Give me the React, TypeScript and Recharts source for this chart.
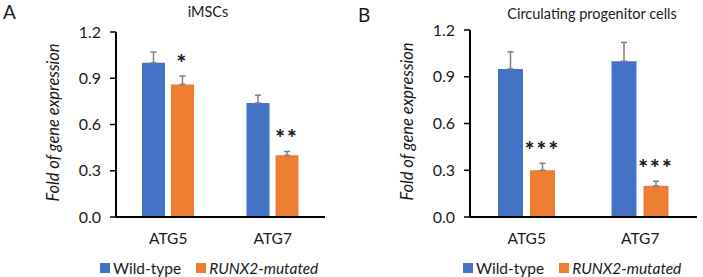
import React from 'react';
import { BarChart, Bar, XAxis, YAxis, ErrorBar, LabelList, Legend } from 'recharts';

// Genes on the category axis
const genes = ['ATG5', 'ATG7'];

// iMSCs: mean fold change and upper SEM
const imscWild = [1.0, 0.74];
const imscWildErr = [0.07, 0.05];
const imscMut = [0.86, 0.4];
const imscMutErr = [0.055, 0.025];
const imscSig = ['*', '**'];

// Circulating progenitor cells
const cpcWild = [0.95, 1.0];
const cpcWildErr = [0.11, 0.12];
const cpcMut = [0.3, 0.2];
const cpcMutErr = [0.045, 0.03];
const cpcSig = ['***', '***'];

const yTicks = [0, 0.3, 0.6, 0.9, 1.2];
const seriesNames = ['Wild-type', 'RUNX2-mutated'];

const BLUE = '#4472C4';
const ORANGE = '#ED7D31';
const FONT = 'Lato, "Open Sans", sans-serif';

type Row = {
  gene: string;
  wild: number;
  wildErr: [number, number];
  mut: number;
  mutErr: [number, number];
  sig: string;
};

const buildRows = (
  wild: number[],
  wildErr: number[],
  mut: number[],
  mutErr: number[],
  sig: string[]
): Row[] =>
  genes.map((gene, i) => ({
    gene,
    wild: wild[i],
    wildErr: [0, wildErr[i]],
    mut: mut[i],
    mutErr: [0, mutErr[i]],
    sig: sig[i],
  }));

const imscRows = buildRows(imscWild, imscWildErr, imscMut, imscMutErr, imscSig);
const cpcRows = buildRows(cpcWild, cpcWildErr, cpcMut, cpcMutErr, cpcSig);

type PanelProps = {
  rows: Row[];
  width: number;
  yAxisWidth: number;
  marginTop: number;
  marginRight: number;
  barSize: number;
  barGap: number;
  legendLeft: number;
};

const Panel = ({ rows, width, yAxisWidth, marginTop, marginRight, barSize, barGap, legendLeft }: PanelProps) => {
  // asterisks sit just above the error-bar cap of the mutated series
  const renderSig = (props: any) => {
    const { x, y, width: w, height: h, value, index } = props;
    const row = rows[index];
    if (!row) return null;
    const pxPerUnit = Number(h) / row.mut;
    const capY = Number(y) - row.mutErr[1] * pxPerUnit;
    return (
      <text
        x={Number(x) + Number(w) / 2}
        y={capY - 5}
        textAnchor="middle"
        fontFamily={FONT}
        fontWeight={900}
        fontSize={23}
        letterSpacing={2}
        fill="#1a1a1a"
      >
        {value}
      </text>
    );
  };

  const renderYLabel = (props: any) => {
    const vb = props.viewBox || {};
    const cx = (vb.x ?? 0) + yAxisWidth - 61;
    const cy = (vb.y ?? 0) + (vb.height ?? 0) / 2 - 2;
    return (
      <text
        x={cx}
        y={cy}
        transform={`rotate(-90, ${cx}, ${cy})`}
        textAnchor="middle"
        dominantBaseline="middle"
        fontFamily={FONT}
        fontStyle="italic"
        fontSize={16.5}
        fill="#1a1a1a"
      >
        Fold of gene expression
      </text>
    );
  };

  const renderLegend = () => (
    <div
      style={{
        display: 'flex',
        alignItems: 'center',
        paddingLeft: legendLeft,
        fontFamily: FONT,
        fontSize: 15.5,
        color: '#1a1a1a',
        height: 20,
      }}
    >
      <span style={{ width: 10, height: 10, background: BLUE, marginRight: 3 }} />
      <span>{seriesNames[0]}</span>
      <span style={{ width: 10, height: 10, background: ORANGE, marginLeft: 15, marginRight: 3 }} />
      <span style={{ fontStyle: 'italic' }}>{seriesNames[1]}</span>
    </div>
  );

  return (
    <BarChart
      width={width}
      height={277}
      data={rows}
      margin={{ top: marginTop, right: marginRight, left: 0, bottom: 10 }}
      barSize={barSize}
      barGap={barGap}
    >
      <XAxis
        dataKey="gene"
        axisLine={{ stroke: '#000', strokeWidth: 2 }}
        tickLine={false}
        tickSize={0}
        tickMargin={16}
        height={30}
        tick={{ fontFamily: FONT, fontSize: 15.5, fill: '#1a1a1a' }}
      />
      <YAxis
        width={yAxisWidth}
        domain={[0, 1.2]}
        ticks={yTicks}
        interval={0}
        tickFormatter={(v: number) => v.toFixed(1)}
        axisLine={{ stroke: '#000', strokeWidth: 2 }}
        tickLine={{ stroke: '#000', strokeWidth: 1.5 }}
        tickSize={6}
        tickMargin={9}
        tick={{ fontFamily: FONT, fontSize: 16, fill: '#1a1a1a' }}
        label={renderYLabel}
      />
      <Legend
        verticalAlign="bottom"
        content={renderLegend}
        wrapperStyle={{ left: 0, top: 258, bottom: 'auto', width }}
      />
      <Bar dataKey="wild" name={seriesNames[0]} fill={BLUE} isAnimationActive={false}>
        <ErrorBar dataKey="wildErr" width={3} stroke="#7F7F7F" strokeWidth={1.5} direction="y" />
      </Bar>
      <Bar dataKey="mut" name={seriesNames[1]} fill={ORANGE} isAnimationActive={false}>
        <ErrorBar dataKey="mutErr" width={3} stroke="#7F7F7F" strokeWidth={1.5} direction="y" />
        <LabelList dataKey="sig" content={renderSig} />
      </Bar>
    </BarChart>
  );
};

const titleStyle: React.CSSProperties = {
  position: 'absolute',
  fontFamily: FONT,
  fontSize: 14.5,
  color: '#1a1a1a',
  transform: 'translateX(-50%)',
  whiteSpace: 'nowrap',
};

const letterStyle: React.CSSProperties = {
  position: 'absolute',
  fontFamily: FONT,
  fontSize: 19,
  color: '#1a1a1a',
};

export default function App() {
  return (
    <div style={{ position: 'absolute', left: 0, top: 0, width: 703, height: 277, background: '#fff', overflow: 'hidden' }}>
      <div style={{ position: 'absolute', left: 0, top: 0 }}>
        <Panel
          rows={imscRows}
          width={350}
          yAxisWidth={116}
          marginTop={32}
          marginRight={25}
          barSize={23}
          barGap={6}
          legendLeft={100}
        />
      </div>
      <div style={{ position: 'absolute', left: 350, top: 0 }}>
        <Panel
          rows={cpcRows}
          width={353}
          yAxisWidth={120}
          marginTop={30}
          marginRight={6}
          barSize={25}
          barGap={7}
          legendLeft={113}
        />
      </div>
      <div style={{ ...letterStyle, left: 3, top: 0 }}>A</div>
      <div style={{ ...letterStyle, left: 358, top: 3 }}>B</div>
      <div style={{ ...titleStyle, left: 208, top: 3 }}>iMSCs</div>
      <div style={{ ...titleStyle, left: 592, top: 5 }}>Circulating progenitor cells</div>
    </div>
  );
}
